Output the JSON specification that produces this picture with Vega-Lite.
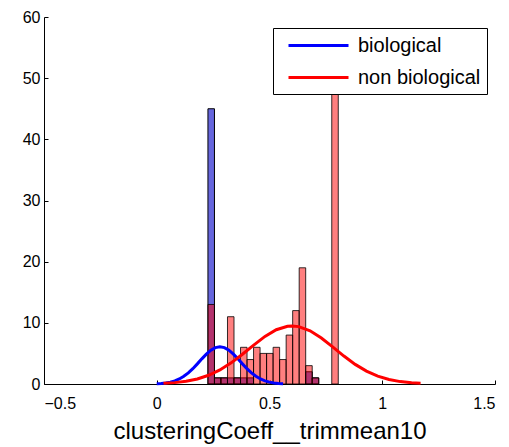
{
  "$schema": "https://vega.github.io/schema/vega-lite/v6.json",
  "width": 451,
  "height": 367,
  "autosize": {"type": "none"},
  "padding": {"left": 44, "top": 17, "right": 14, "bottom": 63},
  "background": "white",
  "config": {
    "view": {"stroke": null},
    "font": "Liberation Sans",
    "axis": {
      "grid": false,
      "domainColor": "black",
      "tickColor": "black",
      "labelColor": "black",
      "titleColor": "black",
      "labelFont": "Liberation Sans",
      "titleFont": "Liberation Sans",
      "labelFontSize": 16,
      "tickSize": -4
    }
  },
  "datasets": {
    "bars": [
      {"group": "biological", "x0": 0.227, "x1": 0.2559, "count": 45},
      {"group": "biological", "x0": 0.2559, "x1": 0.2848, "count": 1},
      {"group": "biological", "x0": 0.2848, "x1": 0.3137, "count": 1},
      {"group": "biological", "x0": 0.3137, "x1": 0.3426, "count": 1},
      {"group": "biological", "x0": 0.3426, "x1": 0.3715, "count": 1},
      {"group": "biological", "x0": 0.3715, "x1": 0.4004, "count": 1},
      {"group": "biological", "x0": 0.4004, "x1": 0.4293, "count": 1},
      {"group": "biological", "x0": 0.6605, "x1": 0.6894, "count": 2},
      {"group": "biological", "x0": 0.6894, "x1": 0.7183, "count": 1},
      {"group": "non biological", "x0": 0.227, "x1": 0.2559, "count": 13},
      {"group": "non biological", "x0": 0.2559, "x1": 0.2848, "count": 1},
      {"group": "non biological", "x0": 0.2848, "x1": 0.3137, "count": 1},
      {"group": "non biological", "x0": 0.3137, "x1": 0.3426, "count": 11},
      {"group": "non biological", "x0": 0.3426, "x1": 0.3715, "count": 1},
      {"group": "non biological", "x0": 0.3715, "x1": 0.4004, "count": 6},
      {"group": "non biological", "x0": 0.4004, "x1": 0.4293, "count": 4},
      {"group": "non biological", "x0": 0.4293, "x1": 0.4582, "count": 6},
      {"group": "non biological", "x0": 0.4582, "x1": 0.4871, "count": 5},
      {"group": "non biological", "x0": 0.4871, "x1": 0.516, "count": 5},
      {"group": "non biological", "x0": 0.516, "x1": 0.5449, "count": 6},
      {"group": "non biological", "x0": 0.5449, "x1": 0.5738, "count": 4},
      {"group": "non biological", "x0": 0.5738, "x1": 0.6027, "count": 8},
      {"group": "non biological", "x0": 0.6027, "x1": 0.6316, "count": 12},
      {"group": "non biological", "x0": 0.6316, "x1": 0.6605, "count": 19},
      {"group": "non biological", "x0": 0.6605, "x1": 0.6894, "count": 3},
      {"group": "non biological", "x0": 0.6894, "x1": 0.7183, "count": 1},
      {"group": "non biological", "x0": 0.7761, "x1": 0.805, "count": 51}
    ],
    "curves": [
      {"group": "biological", "x": 0.00, "y": 0.048},
      {"group": "biological", "x": 0.02, "y": 0.094},
      {"group": "biological", "x": 0.04, "y": 0.174},
      {"group": "biological", "x": 0.06, "y": 0.307},
      {"group": "biological", "x": 0.08, "y": 0.517},
      {"group": "biological", "x": 0.10, "y": 0.825},
      {"group": "biological", "x": 0.12, "y": 1.256},
      {"group": "biological", "x": 0.14, "y": 1.819},
      {"group": "biological", "x": 0.16, "y": 2.508},
      {"group": "biological", "x": 0.18, "y": 3.290},
      {"group": "biological", "x": 0.20, "y": 4.110},
      {"group": "biological", "x": 0.22, "y": 4.884},
      {"group": "biological", "x": 0.24, "y": 5.527},
      {"group": "biological", "x": 0.26, "y": 5.951},
      {"group": "biological", "x": 0.28, "y": 6.100},
      {"group": "biological", "x": 0.30, "y": 5.951},
      {"group": "biological", "x": 0.32, "y": 5.527},
      {"group": "biological", "x": 0.34, "y": 4.884},
      {"group": "biological", "x": 0.36, "y": 4.110},
      {"group": "biological", "x": 0.38, "y": 3.290},
      {"group": "biological", "x": 0.40, "y": 2.508},
      {"group": "biological", "x": 0.42, "y": 1.819},
      {"group": "biological", "x": 0.44, "y": 1.256},
      {"group": "biological", "x": 0.46, "y": 0.825},
      {"group": "biological", "x": 0.48, "y": 0.517},
      {"group": "biological", "x": 0.50, "y": 0.307},
      {"group": "biological", "x": 0.52, "y": 0.174},
      {"group": "biological", "x": 0.54, "y": 0.094},
      {"group": "biological", "x": 0.56, "y": 0.048},
      {"group": "non biological", "x": 0.03, "y": 0.105},
      {"group": "non biological", "x": 0.08, "y": 0.224},
      {"group": "non biological", "x": 0.13, "y": 0.446},
      {"group": "non biological", "x": 0.18, "y": 0.825},
      {"group": "non biological", "x": 0.23, "y": 1.427},
      {"group": "non biological", "x": 0.28, "y": 2.301},
      {"group": "non biological", "x": 0.33, "y": 3.461},
      {"group": "non biological", "x": 0.38, "y": 4.859},
      {"group": "non biological", "x": 0.43, "y": 6.366},
      {"group": "non biological", "x": 0.48, "y": 7.782},
      {"group": "non biological", "x": 0.53, "y": 8.877},
      {"group": "non biological", "x": 0.58, "y": 9.448},
      {"group": "non biological", "x": 0.60, "y": 9.500},
      {"group": "non biological", "x": 0.63, "y": 9.382},
      {"group": "non biological", "x": 0.68, "y": 8.694},
      {"group": "non biological", "x": 0.73, "y": 7.517},
      {"group": "non biological", "x": 0.78, "y": 6.065},
      {"group": "non biological", "x": 0.83, "y": 4.566},
      {"group": "non biological", "x": 0.88, "y": 3.207},
      {"group": "non biological", "x": 0.93, "y": 2.103},
      {"group": "non biological", "x": 0.98, "y": 1.286},
      {"group": "non biological", "x": 1.03, "y": 0.733},
      {"group": "non biological", "x": 1.08, "y": 0.391},
      {"group": "non biological", "x": 1.13, "y": 0.194},
      {"group": "non biological", "x": 1.17, "y": 0.105}
    ]
  },
  "layer": [
    {
      "data": {"name": "bars"},
      "transform": [{"filter": "datum.group === 'biological'"}],
      "mark": {"type": "rect", "fill": "#6666dd", "stroke": "black", "strokeWidth": 1},
      "encoding": {
        "x": {"field": "x0", "type": "quantitative", "scale": {"domain": [-0.5, 1.5], "nice": false, "zero": false},
          "axis": {"values": [-0.5, 0, 0.5, 1, 1.5], "format": "~g", "labelPadding": 15, "title": "clusteringCoeff__trimmean10", "titleFontSize": 24, "titleFontWeight": "normal", "titlePadding": 8}},
        "x2": {"field": "x1"},
        "y": {"field": "count", "type": "quantitative", "scale": {"domain": [0, 60], "nice": false},
          "axis": {"values": [0, 10, 20, 30, 40, 50, 60], "labelPadding": 8, "title": null}},
        "y2": {"datum": 0}
      }
    },
    {
      "data": {"name": "bars"},
      "transform": [{"filter": "datum.group === 'non biological'"}],
      "mark": {"type": "rect", "fill": "#ff0000", "fillOpacity": 0.5, "stroke": "black", "strokeWidth": 1, "strokeOpacity": 0.8},
      "encoding": {
        "x": {"field": "x0", "type": "quantitative"},
        "x2": {"field": "x1"},
        "y": {"field": "count", "type": "quantitative"},
        "y2": {"datum": 0}
      }
    },
    {
      "data": {"name": "curves"},
      "mark": {"type": "line", "strokeWidth": 3},
      "encoding": {
        "x": {"field": "x", "type": "quantitative"},
        "y": {"field": "y", "type": "quantitative"},
        "color": {
          "field": "group", "type": "nominal",
          "scale": {"domain": ["biological", "non biological"], "range": ["#0000ff", "#ff0000"]},
          "legend": {
            "title": null, "orient": "none", "legendX": 229, "legendY": 11,
            "fillColor": "white", "strokeColor": "black",
            "padding": 6, "symbolType": "M-0.2,0H5.8", "symbolSize": 400,
            "symbolStrokeWidth": 3, "labelFontSize": 20, "labelFont": "Liberation Sans",
            "labelColor": "black", "rowPadding": 10, "labelOffset": 56
          }
        }
      }
    }
  ]
}
